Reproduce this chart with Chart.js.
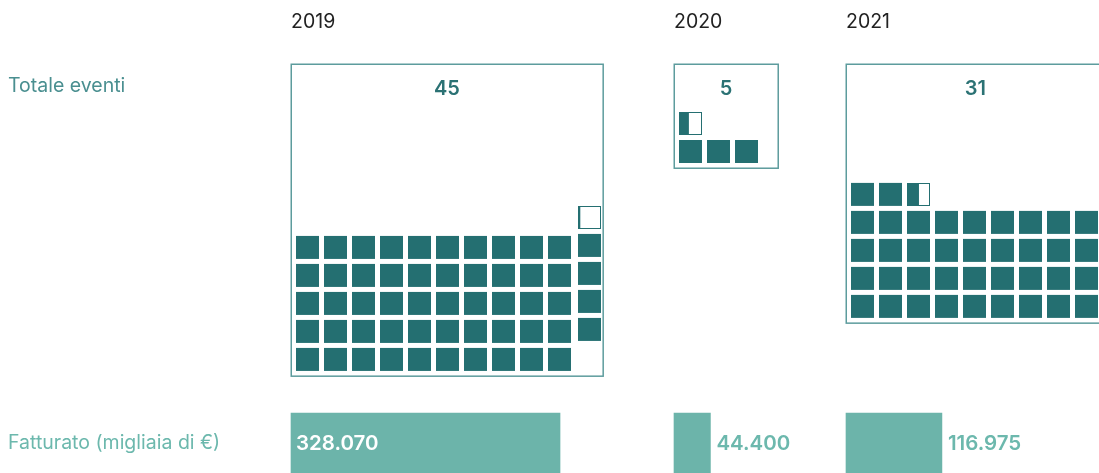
<!DOCTYPE html>
<html lang="it">
<head>
<meta charset="utf-8">
<title>Totale eventi e fatturato 2019-2021</title>
<script src="https://cdn.jsdelivr.net/npm/chart.js@4"></script>
<style>
  html, body { margin: 0; padding: 0; background: #ffffff; }
  #wrap { position: relative; width: 1099px; height: 473px; }
</style>
</head>
<body>
<div id="wrap"><canvas id="c"></canvas></div>
<script>
// ---------- DATI ----------
const anni = ['2019', '2020', '2021'];
const totaleEventi = [45, 5, 31];
const quadrati = [54.1, 3.43, 38.52];          // unità rappresentate dai quadratini
const fatturato = [328070, 44400, 116975];     // migliaia di €
const etichetteFatturato = ['328.070', '44.400', '116.975'];
const etichetteRighe = ['Totale eventi', 'Fatturato (migliaia di €)'];

// ---------- IMPAGINAZIONE ----------
const L = {
  colonneX: [291, 674, 846],
  annoY: 22.5,
  boxTop: 64,
  latoPerRadice: 46.5,     // lato riquadro = k * sqrt(eventi)
  cella: 23,
  passo: 28,
  margine: 5,
  spostaUltimaColonna: [true, false, false],
  ultimaColonnaDx: 2,
  ultimaColonnaDy: -2,
  barraY: 443,
  barraSpessore: 60,
  pxPerUnita: 0.00082,
  rigaEventiY: 86.5,
  numeroY: 88.5
};
const C = {
  cella: '#246f71',
  box: '#5d9c9d',
  barra: '#6cb4aa',
  testoEventi: '#4a8f90',
  testoFatturato: '#6cb8ad',
  anno: '#222222',
  numero: '#2b7274'
};
const FONT = 'Inter, "Open Sans", sans-serif';

// ---------- COSTRUZIONE ----------
const celleIntere = [];
const celleParziali = [];
const riquadri = [];
anni.forEach((a, i) => {
  const lato = L.latoPerRadice * Math.sqrt(totaleEventi[i]);
  const left = L.colonneX[i];
  const bottom = L.boxTop + lato;
  riquadri.push({ x0: left, y0: L.boxTop, x1: left + lato, y1: bottom, eventi: totaleEventi[i] });
  const cols = Math.floor(lato / L.passo);
  const n = quadrati[i];
  const pieni = Math.floor(n);
  const tot = Math.ceil(n);
  for (let k = 0; k < tot; k++) {
    const c = k % cols;
    let r = Math.floor(k / cols);
    let dx = 0, dy = 0;
    if (L.spostaUltimaColonna[i] && c === cols - 1) {
      r += 1; dx = L.ultimaColonnaDx; dy = L.ultimaColonnaDy;
    }
    const x0 = left + L.margine + c * L.passo + dx;
    const yb = bottom - L.margine - r * L.passo + dy;
    if (k < pieni) {
      celleIntere.push({ x: x0 + L.cella / 2, y: yb - L.cella / 2 });
    } else {
      celleParziali.push({ x0: x0, y0: yb - L.cella, frac: n - pieni });
    }
  }
});

const barre = fatturato.map((v, i) => ({
  x: [L.colonneX[i], L.colonneX[i] + v * L.pxPerUnita],
  y: L.barraY
}));

const disegno = {
  id: 'disegno',
  afterDatasetsDraw(chart) {
    const ctx = chart.ctx;
    const sx = chart.scales.x, sy = chart.scales.y;
    const px = v => sx.getPixelForValue(v);
    const py = v => sy.getPixelForValue(v);
    ctx.save();
    // riquadri
    ctx.strokeStyle = C.box;
    ctx.lineWidth = 1.5;
    riquadri.forEach(r => {
      ctx.strokeRect(Math.round(px(r.x0)) + 0.25, Math.round(py(r.y0)) + 0.25,
        px(r.x1) - px(r.x0), py(r.y1) - py(r.y0));
    });
    // celle parziali
    celleParziali.forEach(p => {
      const x = Math.round(px(p.x0)), y = Math.round(py(p.y0));
      const s = px(p.x0 + L.cella) - px(p.x0);
      ctx.fillStyle = '#ffffff';
      ctx.fillRect(x, y, s, s);
      ctx.fillStyle = C.cella;
      ctx.fillRect(x, y, Math.max(1, s * p.frac), s);
      ctx.strokeStyle = C.cella;
      ctx.lineWidth = 1;
      ctx.strokeRect(x + 0.5, y + 0.5, s - 1, s - 1);
    });
    // testi
    ctx.textBaseline = 'middle';
    ctx.textAlign = 'left';
    ctx.font = '400 19.5px ' + FONT;
    ctx.fillStyle = C.anno;
    anni.forEach((a, i) => ctx.fillText(a, px(L.colonneX[i]), py(L.annoY)));
    ctx.fillStyle = C.testoEventi;
    ctx.fillText(etichetteRighe[0], px(8), py(L.rigaEventiY));
    ctx.fillStyle = C.testoFatturato;
    ctx.fillText(etichetteRighe[1], px(8), py(L.barraY));
    // numeri nei riquadri
    ctx.textAlign = 'center';
    ctx.font = '600 20px ' + FONT;
    ctx.fillStyle = C.numero;
    riquadri.forEach(r => ctx.fillText(String(r.eventi), (px(r.x0) + px(r.x1)) / 2, py(L.numeroY)));
    // etichette fatturato
    ctx.textAlign = 'left';
    ctx.font = '600 20.5px ' + FONT;
    barre.forEach((b, i) => {
      const x0 = px(b.x[0]), x1 = px(b.x[1]);
      const w = ctx.measureText(etichetteFatturato[i]).width;
      if (x1 - x0 > 2 * w) {
        ctx.fillStyle = '#ffffff';
        ctx.fillText(etichetteFatturato[i], x0 + 5, py(b.y) + 1);
      } else {
        ctx.fillStyle = C.testoFatturato;
        ctx.fillText(etichetteFatturato[i], x1 + 6, py(b.y) + 1);
      }
    });
    ctx.restore();
  }
};

new Chart(document.getElementById('c'), {
  type: 'bar',
  data: {
    datasets: [
      {
        type: 'bar',
        label: 'Fatturato',
        data: barre,
        backgroundColor: C.barra,
        borderWidth: 0,
        borderSkipped: false,
        barThickness: L.barraSpessore
      },
      {
        type: 'scatter',
        label: 'Eventi',
        data: celleIntere,
        pointStyle: 'rect',
        pointRadius: L.cella / (2 * Math.SQRT1_2),
        pointHoverRadius: L.cella / (2 * Math.SQRT1_2),
        pointBorderWidth: 0,
        backgroundColor: C.cella,
        borderColor: C.cella,
        clip: false
      }
    ]
  },
  options: {
    indexAxis: 'y',
    responsive: true,
    maintainAspectRatio: false,
    animation: false,
    events: [],
    layout: { padding: 0, autoPadding: false },
    plugins: { legend: { display: false }, tooltip: { enabled: false } },
    scales: {
      x: { type: 'linear', min: 0, max: 1099, display: false, offset: false },
      y: { type: 'linear', min: 0, max: 473, reverse: true, display: false, offset: false }
    }
  },
  plugins: [disegno]
});
</script>
</body>
</html>
